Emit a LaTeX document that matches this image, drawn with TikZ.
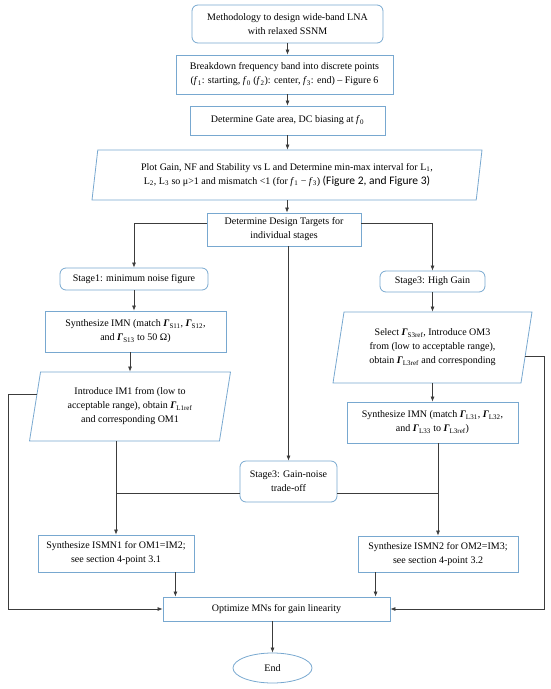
\documentclass[tikz,border=0pt]{standalone}
\usepackage{fontspec}
\setmainfont{Liberation Serif}
\newfontfamily\calib{Carlito}
\usetikzlibrary{shapes.geometric,arrows.meta,calc}
\definecolor{boxblue}{RGB}{120,168,208}
\definecolor{linegray}{RGB}{60,60,60}
\tikzset{
stepbox/.style={
	  draw=boxblue, line width=0.8pt, align=center, inner sep=2pt,
	    font=\fontsize{10}{14}\selectfont},
roundbox/.style={stepbox, rounded corners=6pt},
slantbox/.style={stepbox, trapezium, trapezium stretches body,
	  trapezium left angle=75, trapezium right angle=105},
endnode/.style={stepbox, ellipse},
conn/.style={draw=linegray, line width=0.7pt},
arr/.style={conn, -{Latex[length=5pt,width=4pt]}}
}
\newcommand{\fq}[1]{\textit{f}\textsubscript{#1}}
\newcommand{\gam}[1]{\textbf{\textit{Γ}}\textsubscript{#1}}

\begin{document}
\begin{tikzpicture}[x=1pt, y=-1pt]
	\useasboundingbox (0,0) rectangle (550,689);
	% main column
	\node[roundbox, minimum width=191pt, minimum height=38pt] (start) at (287.5,24)
		{Methodology to design wide-band LNA\\with relaxed SSNM};
	\node[stepbox, minimum width=217pt, minimum height=39pt] (brk) at (284.5,74.5)
		{Breakdown frequency band into discrete points\\(\fq{1}: starting, \fq{0} (\fq{2}): center, \fq{3}: end) – Figure 6};
	\node[stepbox, minimum width=195pt, minimum height=29pt] (gate) at (287.5,120.5)
		{Determine Gate area, DC biasing at \fq{0}};
	\node[slantbox, trapezium left angle=78, trapezium right angle=102,
		minimum width=390pt, minimum height=50pt] (plot) at (287,175)
		{Plot Gain, NF and Stability vs L and Determine min-max interval for L\textsubscript{1},\\
		L\textsubscript{2}, L\textsubscript{3} so μ>1 and mismatch <1 (for \fq{1} − \fq{3}) {\calib\fontsize{11.5}{14}\selectfont (Figure 2, and Figure 3)}};
	\node[stepbox, minimum width=154pt, minimum height=33pt] (dt) at (284,229.5)
		{Determine Design Targets for\\individual stages};
	% left branch
	\node[roundbox, minimum width=148pt, minimum height=22pt] (s1) at (134,279)
		{Stage1: minimum noise figure};
	\node[stepbox, minimum width=181pt, minimum height=41pt] (imnL) at (135.5,331.5)
		{Synthesize IMN (match \gam{S11}, \gam{S12},\\and \gam{S13} to 50 Ω)};
	\node[slantbox, minimum width=201pt, minimum height=69pt] (im1) at (130,406.5)
		{Introduce IM1 from (low to\\acceptable range), obtain \gam{L1ref}\\and corresponding OM1};
	\node[stepbox, minimum width=156pt, minimum height=37pt] (ismn1) at (116,553.5)
		{Synthesize ISMN1 for OM1=IM2;\\see section 4-point 3.1};
	% right branch
	\node[roundbox, minimum width=105pt, minimum height=21pt] (s3) at (432.5,281.5)
		{Stage3: High Gain};
	\node[slantbox, minimum width=199pt, minimum height=71pt] (sel) at (432.5,347.5)
		{Select \gam{S3ref}, Introduce OM3\\from (low to acceptable range),\\obtain \gam{L3ref} and corresponding};
	\node[stepbox, minimum width=171pt, minimum height=41pt] (imnR) at (432.5,422.5)
		{Synthesize IMN (match \gam{L31}, \gam{L32},\\and \gam{L33} to \gam{L3ref})};
	\node[stepbox, minimum width=160pt, minimum height=36pt] (ismn2) at (438,554)
		{Synthesize ISMN2 for OM2=IM3;\\see section 4-point 3.2};
	% middle branch and end
	\node[roundbox, minimum width=97pt, minimum height=41pt] (gn) at (288.5,481.5)
		{Stage3: Gain-noise\\trade-off};
	\node[stepbox, minimum width=227pt, minimum height=24pt] (opt) at (276.5,609)
		{Optimize MNs for gain linearity};
	\node[endnode, minimum width=79pt, minimum height=30pt] (fin) at (272.5,668) {End};
	\coordinate (fbL) at (8,0);
	\coordinate (fbR) at (544,0);
	\coordinate (im1side) at ($(im1.bottom left corner)!0.67!(im1.top left corner)$);
	\coordinate (selside) at ($(sel.bottom right corner)!0.37!(sel.top right corner)$);
	% connectors
	\draw[arr] (start.south) -- (start.south |- brk.north);
	\draw[arr] (gate.north |- brk.south) -- (gate.north);
	\draw[arr] (gate.south) -- (gate.south |- plot.north);
	\draw[arr] (plot.south) -- (plot.south |- dt.north);
	\draw[arr] ([yshift=6pt]dt.west) -| (s1.north);
	\draw[arr] ([yshift=6pt]dt.east) -| (s3.north);
	\draw[arr] (gn.north |- dt.south) -- (gn.north);
	\draw[arr] (s1.south) -- (s1.south |- imnL.north);
	\draw[arr] (im1.north |- imnL.south) -- (im1.north);
	\draw[arr] (ismn1.north |- im1.south) -- (ismn1.north);
	\draw[arr] (s3.south) -- (s3.south |- sel.north);
	\draw[arr] (sel.south) -- (sel.south |- imnR.north);
	\draw[arr] (ismn2.north |- imnR.south) -- (ismn2.north);
	\draw[conn] ([yshift=-11.5pt]gn.west) -- ([yshift=-11.5pt]gn.west -| ismn1.north);
	\draw[conn] ([yshift=-11.5pt]gn.east) -- ([yshift=-11.5pt]gn.east -| ismn2.north);
	\draw[arr] ([xshift=-19pt]ismn1.south east) -- ([xshift=-19pt]ismn1.south east |- opt.north);
	\draw[arr] ([xshift=18pt]ismn2.south west) -- ([xshift=18pt]ismn2.south west |- opt.north);
	\draw[arr] (fin.north |- opt.south) -- (fin.north);
	\draw[arr] (im1side) -- (im1side -| fbL) |- (opt.west);
	\draw[arr] (selside) -- (selside -| fbR) |- (opt.east);
\end{tikzpicture}
\end{document}
